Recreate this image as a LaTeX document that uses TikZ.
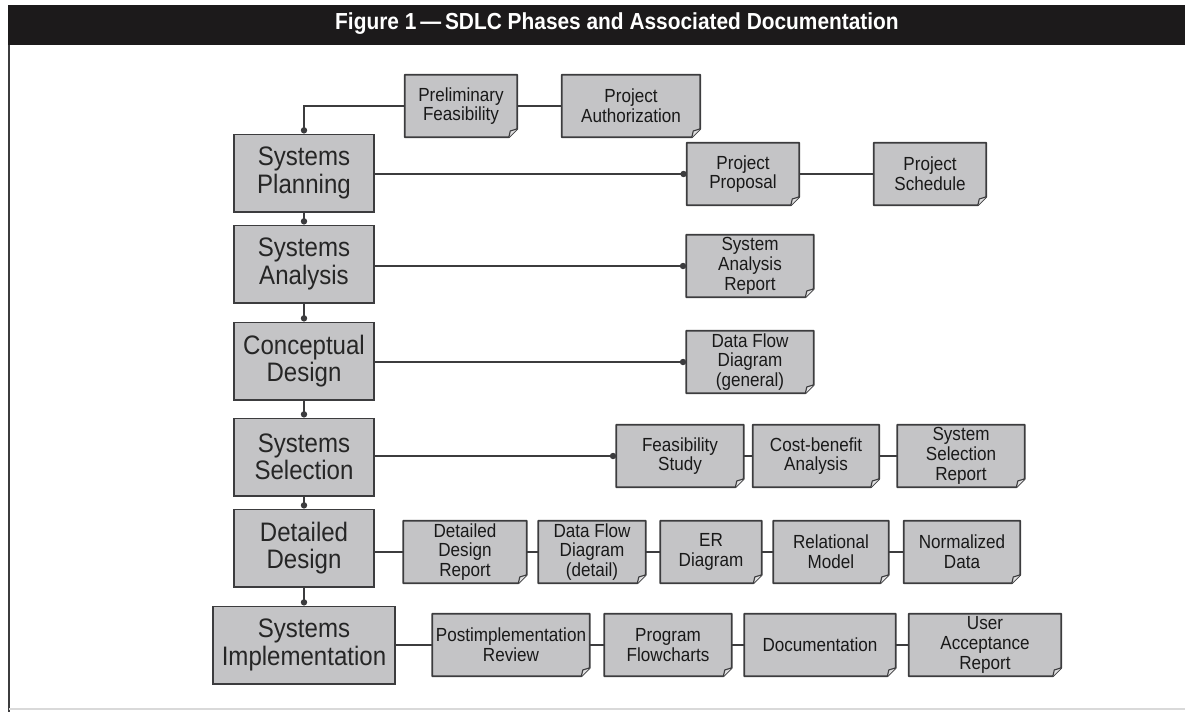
\documentclass[tikz,border=0pt]{standalone}
\usepackage{fontspec}
\setmainfont{Liberation Sans}[FakeStretch=0.9]
\usetikzlibrary{arrows.meta,backgrounds}
\definecolor{boxgray}{RGB}{196,196,198}
\definecolor{edgegray}{RGB}{60,60,62}
\definecolor{barblack}{RGB}{28,26,27}
\tikzset{
  phase/.style={draw=edgegray, line width=1.4pt, fill=boxgray, minimum width=3.5cm, minimum height=1.925cm,
    inner sep=0pt, align=center, text=black!85, font=\fontsize{19}{19.5}\selectfont},
  docbox/.style={minimum height=1.55cm, inner sep=0pt, align=center, text=black!90,
    font=\fontsize{13.5}{14}\selectfont},
  docshape/.style={draw=edgegray, line width=1.2pt, fill=boxgray, line join=round},
  link/.style={draw=edgegray, line width=1pt},
  todot/.style={-{Circle[length=4.5pt]}},
}
\begin{document}
\begin{tikzpicture}[x=0.025cm, y=-0.025cm]
\useasboundingbox (0,0) rectangle (1185,712);
% header and frame
\fill[barblack] (8,5) rectangle (1185,45);
\node[text=white, font=\bfseries\fontsize{16.5}{18}\selectfont] (title) at (617,24) {Figure 1\,—\,SDLC Phases and Associated Documentation};
\draw[edgegray, line width=1.2pt] (9,45) -- (9,712);
\draw[black!15, line width=0.8pt] (9,709) -- (1185,709);

% phases
\node[phase] (sp) at (304,173) {Systems\\Planning};
\node[phase] (sa) at (304,264) {Systems\\Analysis};
\node[phase] (cd) at (304,361) {Conceptual\\Design};
\node[phase] (ss) at (304,457) {Systems\\Selection};
\node[phase] (dd) at (304,548) {Detailed\\Design};
\node[phase, minimum width=4.525cm] (si) at (304,645) {Systems\\Implementation};

% documents
\node[docbox, minimum width=2.8cm] (pf) at (461,106) {Preliminary\\Feasibility};
\node[docbox, minimum width=3.45cm] (pa) at (631,106) {Project\\Authorization};
\node[docbox, minimum width=2.8cm] (pp) at (743,174) {Project\\Proposal};
\node[docbox, minimum width=2.8cm] (psch) at (930,174) {Project\\Schedule};
\node[docbox, minimum width=3.175cm] (sar) at (750,266) {System\\Analysis\\Report};
\node[docbox, minimum width=3.175cm] (dfg) at (750,362) {Data Flow\\Diagram\\(general)};
\node[docbox, minimum width=3.175cm] (fs) at (680,456) {Feasibility\\Study};
\node[docbox, minimum width=3.15cm] (cba) at (816,456) {Cost-benefit\\Analysis};
\node[docbox, minimum width=3.175cm] (ssr) at (961,456) {System\\Selection\\Report};
\node[docbox, minimum width=3.075cm] (ddr) at (465,552) {Detailed\\Design\\Report};
\node[docbox, minimum width=2.675cm] (dfd) at (592,552) {Data Flow\\Diagram\\(detail)};
\node[docbox, minimum width=2.525cm] (erd) at (711,552) {ER\\Diagram};
\node[docbox, minimum width=2.875cm] (rm) at (831,552) {Relational\\Model};
\node[docbox, minimum width=2.9cm] (nd) at (962,552) {Normalized\\Data};
\node[docbox, minimum width=3.925cm] (pir) at (511,645) {Postimplementation\\Review};
\node[docbox, minimum width=3.175cm] (pfc) at (668,645) {Program\\Flowcharts};
\node[docbox, minimum width=3.775cm] (docu) at (820,645) {Documentation};
\node[docbox, minimum width=3.8cm] (uar) at (985,645) {User\\Acceptance\\Report};

% dog-eared sheets behind the document texts
\begin{scope}[on background layer]
\foreach \n in {pf,pa,pp,psch,sar,dfg,fs,cba,ssr,ddr,dfd,erd,rm,nd,pir,pfc,docu,uar}{
  \draw[docshape] (\n.north west) -- (\n.north east) -- ([yshift=6pt]\n.south east)
    -- ([xshift=-6pt]\n.south east) -- (\n.south west) -- cycle;
  \draw[docshape, line width=0.8pt, fill=boxgray!55] ([xshift=-6pt]\n.south east)
    -- ([xshift=-5pt,yshift=4.5pt]\n.south east) -- ([yshift=6pt]\n.south east);
}
\end{scope}

% phase to phase
\draw[link, todot] (pf.west) -| (sp.north);
\foreach \a/\b in {sp/sa,sa/cd,cd/ss,ss/dd,dd/si}
  \draw[link, todot] (\a) -- (\b);

% phase to documents
\draw[link, todot] (sp.east |- pp) -- (pp.west);
\draw[link, todot] (sa.east |- sar) -- (sar.west);
\draw[link, todot] (cd.east |- dfg) -- (dfg.west);
\draw[link, todot] (ss.east |- fs) -- (fs.west);
\draw[link] (dd.east |- ddr) -- (ddr.west);
\draw[link] (si) -- (pir);

% document chains
\foreach \a/\b in {pf/pa,pp/psch,fs/cba,cba/ssr,ddr/dfd,dfd/erd,erd/rm,rm/nd,pir/pfc,pfc/docu,docu/uar}
  \draw[link] (\a) -- (\b);
\end{tikzpicture}
\end{document}
